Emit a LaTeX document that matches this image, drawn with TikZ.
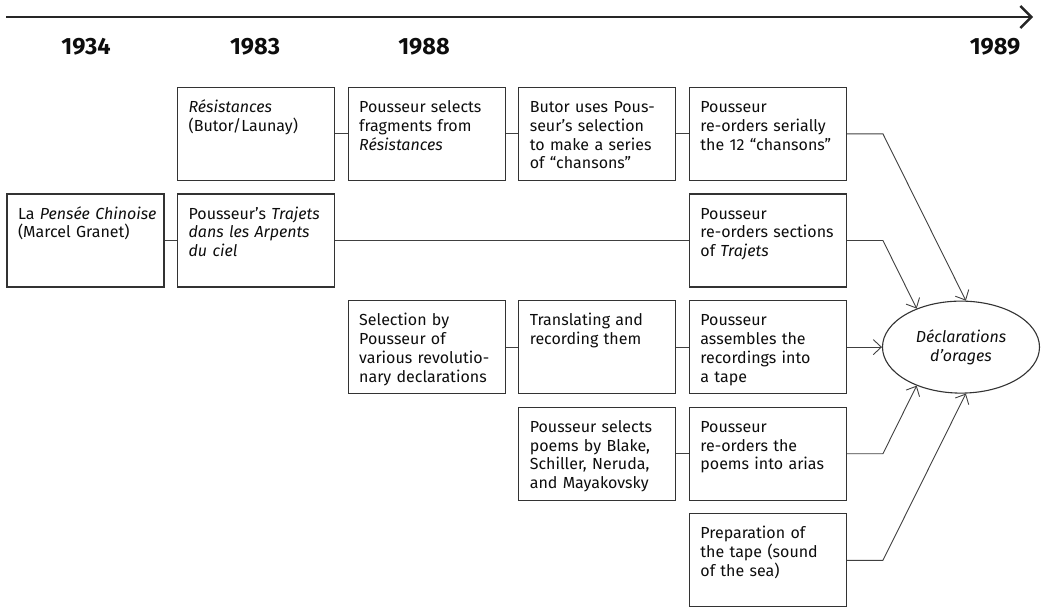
\documentclass[tikz,border=0pt]{standalone}
\usepackage{fontspec}
\setmainfont{Fira Sans}
\usetikzlibrary{shapes.geometric, arrows.meta, positioning}

\begin{document}
\begin{tikzpicture}[x=1pt, y=-1pt, node distance=12.5pt, font=\fontsize{16}{18.8}\selectfont]
    \tikzset{
      event/.style={rectangle, draw=black!80, line width=1.1pt, text=black!95, align=left, text width=135pt, inner xsep=11pt, inner ysep=5pt, text height=20pt, text depth=63pt},
      result/.style={ellipse, draw=black!80, line width=1.1pt, text=black!95, minimum width=157pt, minimum height=92pt, inner sep=0pt, align=center, font=\fontsize{16}{18.8}\selectfont\itshape},
      year/.style={text=black!95, font=\fontsize{23.5}{26}\selectfont\bfseries},
      link/.style={draw=black!75, line width=0.9pt},
      feed/.style={link, -{Straight Barb[length=8pt, width=15pt]}},
      axis/.style={draw=black!85, line width=2.4pt, -{Straight Barb[length=11pt, width=22pt]}}
    }
    \useasboundingbox (0,0) rectangle (1042,606);

    % Time axis
    \coordinate (axisStart) at (6,17);
    \coordinate (axisEnd) at (1033,17);
    \draw[axis] (axisStart) -- (axisEnd);

    \node[year] (year1934) at (86,47) {1934};
    \node[year] (year1983) at (255,47) {1983};
    \node[year] (year1988) at (424,47) {1988};
    \node[year] (year1989) at (995,47) {1989};

    % Nodes
    \node[event] (pensee) at (85.5,240.5) {\mbox{La \emph{Pensée Chinoise}}\\(Marcel Granet)};
    \node[event, right=of pensee] (trajets) {Pousseur’s \emph{Trajets}\\\emph{dans les Arpents}\\\emph{du ciel}};
    \node[event, above=of trajets] (resistances) {\emph{Résistances}\\(Butor/Launay)};
    \node[event, right=of resistances] (selectFrag) {Pousseur selects\\fragments from\\\emph{Résistances}};
    \node[event, right=of selectFrag] (butorChansons) {Butor uses Pous-\\seur’s selection\\to make a series\\of “chansons”};
    \node[event, right=of butorChansons] (reorderChansons) {Pousseur\\re-orders serially\\the 12 “chansons”};
    \node[event, below=of reorderChansons] (reorderTrajets) {Pousseur\\re-orders sections\\of \emph{Trajets}};
    \node[event, below=of reorderTrajets] (assembleTape) {Pousseur\\assembles the\\recordings into\\a tape};
    \node[event, left=of assembleTape] (translateRec) {Translating and\\recording them};
    \node[event, left=of translateRec] (selectDecl) {Selection by\\Pousseur of\\various revolutio-\\nary declarations};
    \node[event, below=of translateRec] (selectPoems) {Pousseur selects\\poems by Blake,\\Schiller, Neruda,\\and Mayakovsky};
    \node[event, below=of assembleTape] (reorderPoems) {Pousseur\\re-orders the\\poems into arias};
    \node[event, below=of reorderPoems] (prepTape) {Preparation of\\the tape (sound\\of the sea)};

    \node[result, right=35pt of assembleTape] (declOrages) {Déclarations\\d’orages};

    % Edges
    \draw[link] (resistances.east) -- (selectFrag.west);
    \draw[link] (selectFrag.east) -- (butorChansons.west);
    \draw[link] (butorChansons.east) -- (reorderChansons.west);
    \draw[link] (pensee.east) -- (trajets.west);
    \draw[link] (trajets.east) -- (reorderTrajets.west);
    \draw[link] (selectDecl.east) -- (translateRec.west);
    \draw[link] (translateRec.east) -- (assembleTape.west);
    \draw[link] (selectPoems.east) -- (reorderPoems.west);

    \draw[feed] (reorderChansons.east) -- ++(36,0) -- (declOrages.84);
    \draw[feed] (reorderTrajets.east) -- ++(36,0) -- (declOrages.139);
    \draw[feed] (assembleTape.east) -- (declOrages.west);
    \draw[feed] (reorderPoems.east) -- ++(36,0) -- (declOrages.221);
    \draw[feed] (prepTape.east) -- ++(36,0) -- (declOrages.276);

\end{tikzpicture}
\end{document}
